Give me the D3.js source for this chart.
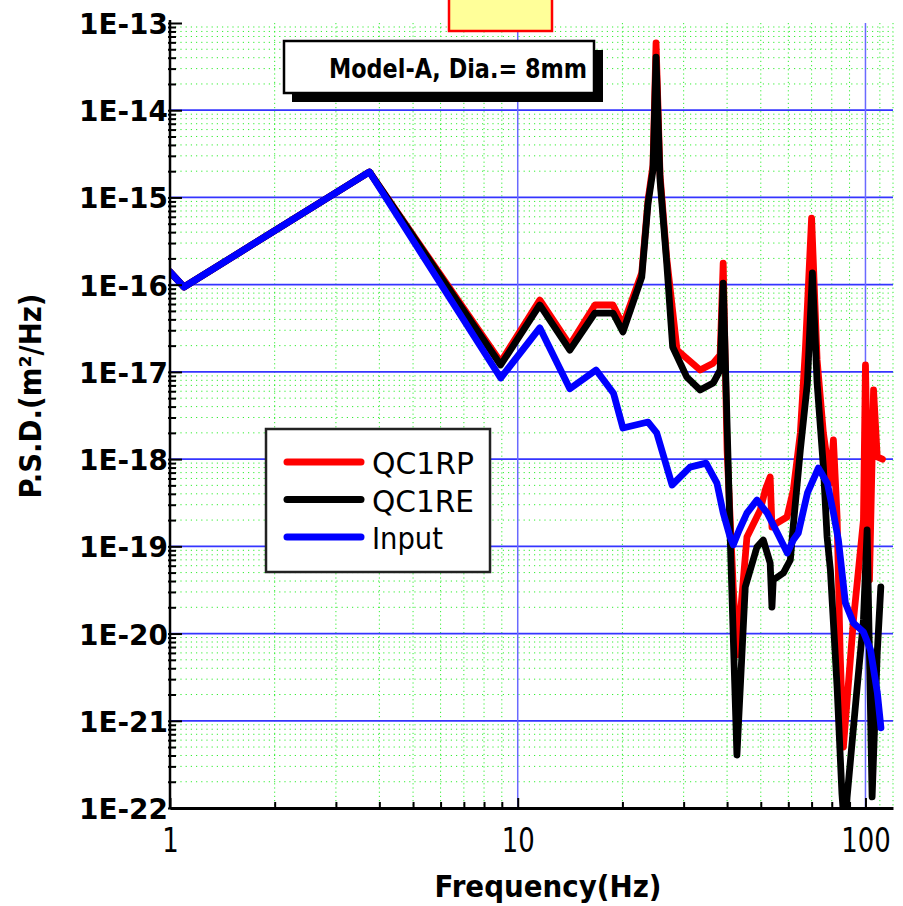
<!DOCTYPE html>
<html>
<head>
<meta charset="utf-8">
<script src="https://cdn.jsdelivr.net/npm/d3@7"></script>
<style>
  body { margin: 0; background: #fff; }
  svg { display: block; }
</style>
</head>
<body>
<script>
'use strict';

const width = 903;
const height = 906;

// frequency (Hz) and PSD (m2/Hz)
const inputFreq = [1, 1.097, 3.746, 8.93, 11.57, 14.12, 16.8, 18.85, 20.07, 23.7, 25.1, 27.79, 31.3, 34.8, 37.4, 39.0, 40.8, 41.65, 43.35, 45.6, 48.74, 52.2, 55.8, 59.6, 62.0, 64.1, 68.1, 73.2, 77.7, 80.9, 83.6, 87.56, 92.36, 98.68, 103.4, 108.2, 110.8];
const inputPsd = [1.4e-16, 9.4e-17, 1.96e-15, 8.5e-18, 3.2e-17, 6.4e-18, 1.05e-17, 5.7e-18, 2.27e-18, 2.66e-18, 2.0e-18, 5.05e-19, 8.1e-19, 9.0e-19, 5.3e-19, 2.4e-19, 1.28e-19, 1.04e-19, 1.54e-19, 2.4e-19, 3.4e-19, 2.4e-19, 1.42e-19, 8.4e-20, 1.18e-19, 1.42e-19, 4.1e-19, 7.9e-19, 5.3e-19, 2.4e-19, 1.18e-19, 2.24e-20, 1.32e-20, 1.04e-20, 6.5e-21, 2.08e-21, 8.3e-22];

const qc1reFreq = [1, 1.097, 3.746, 8.93, 11.57, 14.12, 16.67, 18.79, 20.07, 22.73, 23.7, 24.49, 24.99, 25.66, 26.82, 27.9, 30.63, 33.46, 36.48, 38.2, 38.98, 40.83, 42.69, 45.11, 48.74, 50.82, 53.2, 53.84, 54.3, 58.04, 60.8, 62.02, 64.97, 68.07, 70.37, 72.6, 75.68, 77.56, 79.27, 82.87, 85.55, 87.2, 88.56, 94.65, 98.68, 101.1, 104.5, 108.1, 110.7];
const qc1rePsd = [1.4e-16, 9.4e-17, 1.96e-15, 1.2e-17, 5.85e-17, 1.78e-17, 4.73e-17, 4.73e-17, 2.87e-17, 1.22e-16, 8.6e-16, 2.06e-15, 4.07e-14, 1.58e-15, 1.77e-16, 1.93e-17, 8.7e-18, 6.2e-18, 7.45e-18, 1.05e-17, 1.04e-16, 1.28e-19, 4.05e-22, 3.42e-20, 9.8e-20, 1.18e-19, 6.44e-20, 2.01e-20, 4.11e-20, 4.94e-20, 6.97e-20, 1.75e-19, 1.27e-18, 7.45e-18, 1.36e-16, 7.45e-18, 8.1e-19, 1.28e-19, 5.35e-20, 2.44e-21, 1.49e-22, 5e-23, 1.34e-22, 2.44e-21, 1.43e-20, 1.54e-19, 1.34e-22, 5.98e-21, 3.42e-20];

const qc1rpFreq = [1, 1.097, 3.746, 8.93, 11.57, 14.12, 16.67, 18.79, 20.07, 22.73, 23.7, 24.49, 24.99, 25.66, 26.82, 28.72, 33.46, 36.48, 38.2, 38.98, 40.0, 41.65, 42.69, 45.62, 49.82, 51.5, 53.2, 53.84, 55.66, 59.48, 62.02, 64.97, 67.16, 70.0, 72.6, 75.68, 79.27, 80.87, 82.87, 84.56, 86.4, 92.36, 98.68, 100, 102.7, 105.5, 108.1, 111.9];
const qc1rpPsd = [1.4e-16, 9.4e-17, 1.96e-15, 1.3e-17, 6.67e-17, 2.03e-17, 5.85e-17, 5.85e-17, 3.45e-17, 1.36e-16, 9.35e-16, 2.36e-15, 5.9e-14, 1.81e-15, 2.02e-16, 1.78e-17, 1.05e-17, 1.26e-17, 1.56e-17, 1.77e-16, 1.27e-18, 3.42e-20, 5.68e-21, 1.28e-19, 2.61e-19, 4.42e-19, 6.24e-19, 1.66e-19, 1.85e-19, 2.17e-19, 4.42e-19, 1.99e-18, 1.78e-17, 5.8e-16, 1.37e-17, 1.99e-18, 5.3e-19, 1.66e-18, 2.17e-19, 5.98e-21, 5.0e-22, 1.43e-20, 2.0e-19, 1.2e-17, 4.11e-20, 6.2e-18, 1.06e-18, 1.0e-18];

const seriesNames = ["QC1RP", "QC1RE", "Input"];
const seriesColors = ["#ff0000", "#000000", "#0000ff"];
const xTickValues = [1, 10, 100];
const yTickExponents = [-22, -21, -20, -19, -18, -17, -16, -15, -14, -13];
const noteText = "Model-A, Dia.= 8mm";

const svg = d3.select("body")
    .append("svg")
    .attr("width", width)
    .attr("height", height)
    .style("background", "#fff");

const plotLeft = 170, plotRight = 893, plotTop = 23, plotBottom = 808;

let x = d3.scaleLog()
    .domain([1, 120])
    .range([plotLeft, plotRight]);

let y = d3.scaleLog()
    .domain([1e-22, 1e-13])
    .range([plotBottom, plotTop]);

// minor grid values (2..9 in every decade)
let minorX = [];
[1, 10].forEach(d => { for (let k = 2; k <= 9; k++) minorX.push(k * d); });
minorX.push(110, 120);
let majorY = yTickExponents.map(e => Math.pow(10, e));
let minorY = [];
yTickExponents.slice(0, -1).forEach(e => {
    for (let k = 2; k <= 9; k++) minorY.push(k * Math.pow(10, e));
});

let grid = svg.append("g");

grid.selectAll(".gx")
    .data(minorX)
    .enter()
    .append("line")
    .attr("x1", d => x(d)).attr("x2", d => x(d))
    .attr("y1", plotTop).attr("y2", plotBottom)
    .attr("stroke", "#33ee33")
    .attr("stroke-width", 1)
    .attr("stroke-dasharray", "1.2,3");

grid.selectAll(".gy")
    .data(minorY)
    .enter()
    .append("line")
    .attr("x1", plotLeft).attr("x2", plotRight)
    .attr("y1", d => y(d)).attr("y2", d => y(d))
    .attr("stroke", "#33ee33")
    .attr("stroke-width", 1)
    .attr("stroke-dasharray", "1.2,4");

grid.selectAll(".my")
    .data(majorY.slice(1, -1))
    .enter()
    .append("line")
    .attr("x1", plotLeft).attr("x2", plotRight)
    .attr("y1", d => y(d)).attr("y2", d => y(d))
    .attr("stroke", "#3535ff")
    .attr("stroke-width", 1.7);

grid.selectAll(".mx")
    .data([10, 100])
    .enter()
    .append("line")
    .attr("x1", d => x(d)).attr("x2", d => x(d))
    .attr("y1", plotTop).attr("y2", plotBottom)
    .attr("stroke", "#6a6aff")
    .attr("stroke-width", 1.5);

// data lines
svg.append("clipPath")
    .attr("id", "plotclip")
    .append("rect")
    .attr("x", plotLeft).attr("y", plotTop)
    .attr("width", plotRight - plotLeft).attr("height", plotBottom - plotTop);

let line = d3.line()
    .x(d => x(d[0]))
    .y(d => y(d[1]));

let series = [
    d3.zip(qc1rpFreq, qc1rpPsd),
    d3.zip(qc1reFreq, qc1rePsd),
    d3.zip(inputFreq, inputPsd)
];

svg.append("g")
    .attr("clip-path", "url(#plotclip)")
    .selectAll("path")
    .data(series)
    .enter()
    .append("path")
    .attr("d", line)
    .attr("fill", "none")
    .attr("stroke", (d, i) => seriesColors[i])
    .attr("stroke-width", 6.8)
    .attr("stroke-linejoin", "round")
    .attr("stroke-linecap", "round");

// axes
let yAxis = svg.append("g")
    .attr("transform", "translate(" + plotLeft + ",0)")
    .call(d3.axisLeft(y)
        .tickValues(majorY)
        .tickSizeOuter(0)
        .tickFormat(d => "1E" + Math.round(Math.log10(d))));

yAxis.select(".domain").attr("stroke-width", 2.5).attr("d", "M0," + (plotTop - 3) + "V" + plotBottom);
yAxis.selectAll(".tick line").attr("x1", -2).attr("x2", 12).attr("stroke-width", 2);
yAxis.selectAll(".tick text")
    .attr("x", -2)
    .attr("dy", "0.36em")
    .attr("font-family", "DejaVu Sans")
    .attr("font-weight", "bold")
    .attr("font-size", 29)
    .attr("fill", "#000")
    .attr("textLength", 89)
    .attr("lengthAdjust", "spacingAndGlyphs");

let yMinor = svg.append("g")
    .attr("transform", "translate(" + plotLeft + ",0)")
    .call(d3.axisLeft(y).tickValues(minorY).tickSizeOuter(0).tickFormat(""));
yMinor.select(".domain").remove();
yMinor.selectAll(".tick line").attr("x1", -2).attr("x2", 6).attr("stroke-width", 2);

let xAxis = svg.append("g")
    .attr("transform", "translate(0," + plotBottom + ")")
    .call(d3.axisBottom(x)
        .tickValues(xTickValues)
        .tickSizeOuter(0)
        .tickFormat(d3.format("d")));

xAxis.select(".domain").attr("stroke-width", 3);
xAxis.selectAll(".tick line").attr("y1", 1).attr("y2", -10).attr("stroke-width", 2);
xAxis.selectAll(".tick text")
    .attr("y", 44)
    .attr("dy", null)
    .attr("font-family", "DejaVu Sans")
    .attr("font-size", 33)
    .attr("fill", "#000")
    .attr("textLength", d => String(d).length * 16.5)
    .attr("lengthAdjust", "spacingAndGlyphs");
xAxis.selectAll(".tick").filter(d => d === 100).select("text").attr("x", 0);

let xMinor = svg.append("g")
    .attr("transform", "translate(0," + plotBottom + ")")
    .call(d3.axisBottom(x).tickValues(minorX.filter(d => d < 100)).tickSizeOuter(0).tickFormat(""));
xMinor.select(".domain").remove();
xMinor.selectAll(".tick line").attr("y1", 1).attr("y2", -6).attr("stroke-width", 2);

// axis titles
svg.append("text")
    .attr("transform", "translate(41,396) rotate(-90)")
    .attr("text-anchor", "middle")
    .attr("font-family", "DejaVu Sans")
    .attr("font-weight", "bold")
    .attr("font-size", 30)
    .attr("textLength", 205)
    .attr("lengthAdjust", "spacingAndGlyphs")
    .text("P.S.D.(m²/Hz)");

svg.append("text")
    .attr("x", 548)
    .attr("y", 897)
    .attr("text-anchor", "middle")
    .attr("font-family", "DejaVu Sans")
    .attr("font-weight", "bold")
    .attr("font-size", 30)
    .attr("textLength", 227)
    .attr("lengthAdjust", "spacingAndGlyphs")
    .text("Frequency(Hz)");

// empty title box
svg.append("rect")
    .attr("x", 449).attr("y", -3)
    .attr("width", 103).attr("height", 34)
    .attr("fill", "#ffff99")
    .attr("stroke", "#ff0000")
    .attr("stroke-width", 2.5);

// note box with shadow
svg.append("rect")
    .attr("x", 292).attr("y", 50)
    .attr("width", 311).attr("height", 52)
    .attr("fill", "#000");
svg.append("rect")
    .attr("x", 284).attr("y", 41)
    .attr("width", 310).attr("height", 52)
    .attr("fill", "#fff")
    .attr("stroke", "#000")
    .attr("stroke-width", 2.5);
svg.append("text")
    .attr("x", 329).attr("y", 78)
    .attr("font-family", "DejaVu Sans")
    .attr("font-weight", "bold")
    .attr("font-size", 27)
    .attr("textLength", 258)
    .attr("lengthAdjust", "spacingAndGlyphs")
    .text(noteText);

// legend
let legend = svg.append("g");
legend.append("rect")
    .attr("x", 266).attr("y", 429)
    .attr("width", 224).attr("height", 143)
    .attr("fill", "#fff")
    .attr("stroke", "#222")
    .attr("stroke-width", 2.5);

let items = legend.selectAll(".item")
    .data(seriesNames)
    .enter()
    .append("g")
    .attr("transform", (d, i) => "translate(0," + (462 + i * 37.5) + ")");

items.append("line")
    .attr("x1", 287).attr("x2", 361)
    .attr("stroke", (d, i) => seriesColors[i])
    .attr("stroke-width", 7)
    .attr("stroke-linecap", "round");

items.append("text")
    .attr("x", 372)
    .attr("y", 12)
    .attr("font-family", "DejaVu Sans")
    .attr("font-size", 30)
    .attr("textLength", d => d === "Input" ? 71 : 102)
    .attr("lengthAdjust", "spacingAndGlyphs")
    .text(d => d);
</script>
</body>
</html>
